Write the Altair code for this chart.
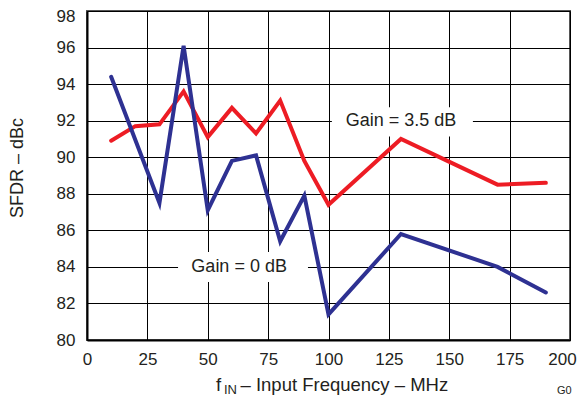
import altair as alt
import pandas as pd

# ---- data ----
freq_red = [10, 20, 30, 40, 50, 60, 70, 80, 90, 100, 130, 170, 190]
sfdr_red = [90.9, 91.7, 91.8, 93.6, 91.1, 92.7, 91.3, 93.1, 89.8, 87.4, 91.0, 88.5, 88.6]
freq_blue = [10, 30, 40, 50, 60, 70, 80, 90, 100, 130, 170, 190]
sfdr_blue = [94.4, 87.5, 96.1, 87.1, 89.8, 90.1, 85.4, 87.9, 81.4, 85.8, 84.0, 82.6]
series_names = ["Gain = 3.5 dB", "Gain = 0 dB"]
series_colors = ["#ED1C24", "#2E3192"]
x_ticks = [0, 25, 50, 75, 100, 125, 150, 175, 200]
y_ticks = [80, 82, 84, 86, 88, 90, 92, 94, 96, 98]

FONT = "Liberation Sans"
TXT = "#231F20"

df = pd.concat([
    pd.DataFrame({"f": freq_red, "sfdr": sfdr_red, "series": series_names[0], "order": 0}),
    pd.DataFrame({"f": freq_blue, "sfdr": sfdr_blue, "series": series_names[1], "order": 1}),
])

xscale = alt.Scale(domain=[0, 200], nice=False, zero=False)
yscale = alt.Scale(domain=[80, 98], nice=False, zero=False)

xaxis = alt.Axis(values=x_ticks, grid=True, gridColor="black", gridWidth=1, gridOpacity=1,
                 domainColor="black", domainWidth=2, ticks=False, tickSize=0,
                 labelFontSize=17, labelFont=FONT, labelColor=TXT, labelPadding=11,
                 labelFlush=False, labelOverlap=False, title=None,
                 labelOffset={"condition": {"test": "datum.value == 200", "value": -8}, "value": 0})
yaxis = alt.Axis(values=y_ticks, grid=True, gridColor="black", gridWidth=1, gridOpacity=1,
                 domainColor="black", domainWidth=2, ticks=False, tickSize=0,
                 labelFontSize=17, labelFont=FONT, labelColor=TXT, labelPadding=12,
                 labelFlush=False, labelOverlap=False, title=None,
                 labelOffset={"condition": {"test": "datum.value == 98", "value": 5}, "value": 0})

base = alt.Chart(df)

frame = base.mark_point(opacity=0).encode(
    x=alt.X("f:Q", scale=xscale, axis=xaxis),
    y=alt.Y("sfdr:Q", scale=yscale, axis=yaxis),
)

boxes = pd.DataFrame({
    "x1": [101.4, 37.7], "x2": [159.8, 91.5],
    "y1": [91.14, 83.17], "y2": [92.73, 84.81],
})
rects = alt.Chart(boxes).mark_rect(fill="white").encode(
    x=alt.X("x1:Q", scale=xscale, axis=xaxis), x2="x2:Q",
    y=alt.Y("y1:Q", scale=yscale, axis=yaxis), y2="y2:Q",
)

lines = base.mark_line(strokeWidth=4, strokeCap="round").encode(
    x=alt.X("f:Q", scale=xscale, axis=xaxis),
    y=alt.Y("sfdr:Q", scale=yscale, axis=yaxis),
    color=alt.Color("series:N", scale=alt.Scale(domain=series_names, range=series_colors), legend=None),
    detail="series:N",
    order=alt.Order("order:Q"),
)

labels = pd.DataFrame({"x": [130, 63], "y": [92.0, 84.0], "t": series_names})
ann = alt.Chart(labels).mark_text(font=FONT, fontSize=18, color=TXT, align="center", baseline="middle").encode(
    x=alt.X("x:Q", scale=xscale, axis=xaxis), y=alt.Y("y:Q", scale=yscale, axis=yaxis), text="t:N"
)

ytitle = alt.Chart(pd.DataFrame({"t": ["SFDR – dBc"]})).mark_text(
    font=FONT, fontSize=18, color=TXT, angle=270, align="center", baseline="middle"
).encode(x=alt.value(-69), y=alt.value(157), text="t:N")

xt1 = alt.Chart(pd.DataFrame({"t": ["f"]})).mark_text(
    font=FONT, fontSize=18.5, color=TXT, align="left", baseline="alphabetic"
).encode(x=alt.value(129), y=alt.value(380), text="t:N")
xt2 = alt.Chart(pd.DataFrame({"t": ["IN"]})).mark_text(
    font=FONT, fontSize=13, color=TXT, align="left", baseline="alphabetic"
).encode(x=alt.value(137), y=alt.value(383), text="t:N")
xt3 = alt.Chart(pd.DataFrame({"t": ["– Input Frequency – MHz"]})).mark_text(
    font=FONT, fontSize=18.5, color=TXT, align="left", baseline="alphabetic"
).encode(x=alt.value(153.5), y=alt.value(380), text="t:N")
gid = alt.Chart(pd.DataFrame({"t": ["G0"]})).mark_text(
    font=FONT, fontSize=11, color=TXT, align="left", baseline="alphabetic"
).encode(x=alt.value(470), y=alt.value(383), text="t:N")

chart = alt.layer(frame, rects, lines, ann, ytitle, xt1, xt2, xt3, gid).properties(
    width=483, height=329,
    autosize=alt.AutoSizeParams(type="none"),
    padding={"left": 79, "top": 3, "right": 7, "bottom": 56},
).configure_view(stroke="#555555", strokeWidth=2)

chart.save("out.html", embed_options={"renderer": "svg", "actions": False})
